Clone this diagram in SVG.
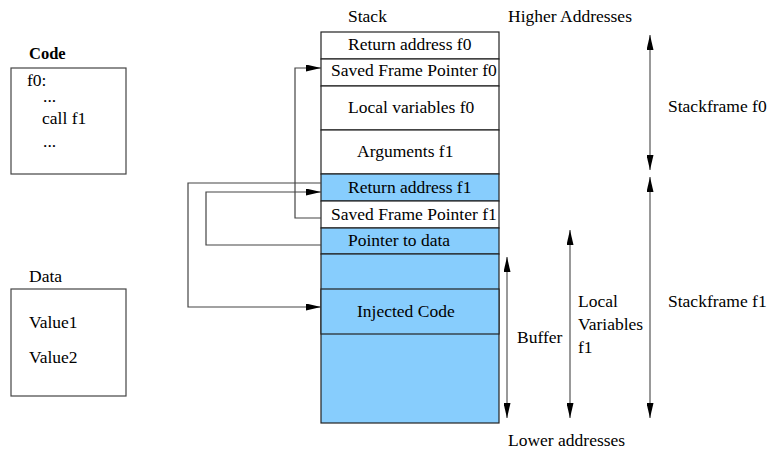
<svg xmlns="http://www.w3.org/2000/svg" width="767" height="454" viewBox="0 0 767 454">
<style>
text{font-family:"Liberation Serif","Times New Roman",serif;font-size:17.5px;fill:#000}
.bold{font-weight:bold;font-size:16.5px}
.box{fill:#fff;stroke:#444;stroke-width:1.2}
.blue{fill:#87cdfd;stroke:#222;stroke-width:1.2}
.white{fill:#fff;stroke:#222;stroke-width:1.2}
.conn{fill:none;stroke:#444;stroke-width:1.2}
.dim{fill:none;stroke:#777;stroke-width:1.5}
</style>
<defs>
<marker id="ah" markerWidth="15" markerHeight="7" refX="15" refY="3.5" orient="auto" markerUnits="userSpaceOnUse">
<path d="M0,0 L15,3.5 L0,7 Z" fill="#000"/>
</marker>
<marker id="as" markerWidth="15" markerHeight="7" refX="15" refY="3.5" orient="auto-start-reverse" markerUnits="userSpaceOnUse">
<path d="M0,0 L15,3.5 L0,7 Z" fill="#000"/>
</marker>
</defs>
<g id="code">
<text x="29" y="59" class="bold">Code</text>
<rect x="11" y="68" width="115" height="106" class="box"/>
<text x="27" y="86">f0:</text>
<text x="43" y="102">...</text>
<text x="42" y="124">call f1</text>
<text x="43" y="147">...</text>
</g>
<g id="data">
<text x="29" y="282">Data</text>
<rect x="11" y="289" width="115" height="107" class="box"/>
<text x="29" y="328">Value1</text>
<text x="29" y="363">Value2</text>
</g>
<g id="stack">
<text x="348" y="22">Stack</text>
<text x="508" y="22">Higher Addresses</text>
<text x="508" y="446">Lower addresses</text>
<rect x="321" y="32" width="178" height="27" class="white"/>
<rect x="321" y="59" width="178" height="27" class="white"/>
<rect x="321" y="86" width="178" height="44" class="white"/>
<rect x="321" y="130" width="178" height="44" class="white"/>
<rect x="321" y="174" width="178" height="27" class="blue"/>
<rect x="321" y="201" width="178" height="27" class="white"/>
<rect x="321" y="228" width="178" height="26" class="blue"/>
<rect x="321" y="254" width="178" height="169" class="blue"/>
<rect x="321" y="289" width="178" height="45" class="blue"/>
<text x="348" y="50">Return address f0</text>
<text x="331" y="76">Saved Frame Pointer f0</text>
<text x="348" y="113">Local variables f0</text>
<text x="357" y="157">Arguments f1</text>
<text x="348" y="193">Return address f1</text>
<text x="331" y="220">Saved Frame Pointer f1</text>
<text x="348" y="246">Pointer to data</text>
<text x="357" y="317">Injected Code</text>
</g>
<g id="labels">
<text x="668" y="112">Stackframe f0</text>
<text x="668" y="307">Stackframe f1</text>
<text x="578" y="307">Local</text>
<text x="578" y="330">Variables</text>
<text x="578" y="353">f1</text>
<text x="517" y="343">Buffer</text>
</g>
<g id="connectors">
<polyline points="321,218 295,218 295,68 321,68" class="conn" marker-end="url(#ah)"/>
<polyline points="321,245 206,245 206,192 321,192" class="conn" marker-end="url(#ah)"/>
<polyline points="321,183 188,183 188,307 321,307" class="conn" marker-end="url(#ah)"/>
<line x1="650" y1="35" x2="650" y2="170" class="dim" marker-start="url(#as)" marker-end="url(#as)"/>
<line x1="650" y1="177" x2="650" y2="418" class="dim" marker-start="url(#as)" marker-end="url(#as)"/>
<line x1="570" y1="230" x2="570" y2="418" class="dim" marker-start="url(#as)" marker-end="url(#as)"/>
<line x1="507" y1="257" x2="507" y2="418" class="dim" marker-start="url(#as)" marker-end="url(#as)"/>
</g>
</svg>
